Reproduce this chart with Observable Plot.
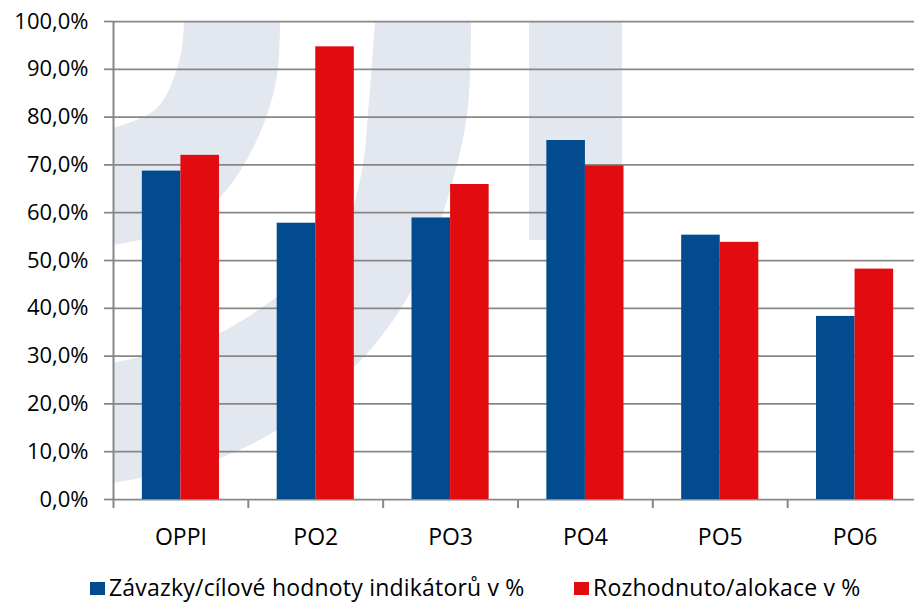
<!DOCTYPE html>
<html><head><meta charset="utf-8">
<script src="https://cdn.jsdelivr.net/npm/d3@7"></script>
<script src="https://cdn.jsdelivr.net/npm/@observablehq/plot@0.6"></script>
<style>
html,body{margin:0;padding:0;background:#fff;overflow:hidden;}
#wrap{position:relative;width:914px;height:603px;font-family:"Open Sans",sans-serif;}
.legend{position:absolute;top:573px;height:28px;line-height:28px;display:flex;align-items:center;font-size:23px;letter-spacing:0.2px;color:#000;white-space:nowrap;}
.sw{width:15px;height:13px;margin-right:4px;margin-top:3px;}
</style></head><body><div id="wrap"></div>
<script>
// ---- data ----
const categories = ["OPPI", "PO2", "PO3", "PO4", "PO5", "PO6"];
const zavazky = [68.7, 57.8, 58.9, 75.1, 55.3, 38.3];
const rozhodnuto = [72.0, 94.7, 65.9, 69.8, 53.8, 48.2];
const seriesNames = ["Závazky/cílové hodnoty indikátorů v %", "Rozhodnuto/alokace v %"];
const seriesColors = ["#014b8e", "#e20b0f"];
const yTicks = [0, 10, 20, 30, 40, 50, 60, 70, 80, 90, 100];

// ---- layout ----
const W = 914, H = 560;
const mL = 113, mR = -8, mT = 21, mB = 61;
const step = (W - mL - mR) / categories.length;
const groupPad = 0.428;              // share of each band left empty
const barW = step * (1 - groupPad) / 2;
const sideGap = step * groupPad / 2;
const gridColor = "#878787";

const rows = categories.flatMap((c, i) => [
  {cat: c, series: seriesNames[0], value: zavazky[i]},
  {cat: c, series: seriesNames[1], value: rozhodnuto[i]}
]);

const chart = Plot.plot({
  width: W, height: H,
  marginLeft: mL, marginRight: mR, marginTop: mT, marginBottom: mB,
  style: {fontFamily: "Open Sans", fontSize: "22px", color: "#000", background: "transparent", overflow: "hidden"},
  x: {domain: categories, padding: 0, round: false, label: null},
  y: {domain: [0, 100], label: null},
  color: {domain: seriesNames, range: seriesColors},
  marks: [
    Plot.gridY(yTicks, {stroke: gridColor, strokeOpacity: 1, strokeWidth: 1.75}),
    Plot.barY(rows.filter(d => d.series === seriesNames[0]), {
      x: "cat", y: "value", fill: "series",
      insetLeft: sideGap, insetRight: sideGap + barW
    }),
    Plot.barY(rows.filter(d => d.series === seriesNames[1]), {
      x: "cat", y: "value", fill: "series",
      insetLeft: sideGap + barW, insetRight: sideGap
    }),
    Plot.ruleX([categories[0]], {x: d => d, dx: -step / 2, y1: 0, y2: 100, stroke: gridColor, strokeWidth: 2}),
    Plot.axisY({ticks: yTicks, tickSize: 9, tickPadding: 16, stroke: gridColor, strokeWidth: 1.75, fill: "#000",
      tickFormat: d => d.toFixed(1).replace(".", ",") + "%", label: null}),
    Plot.axisX({tickSize: 9, dx: -step / 2, stroke: gridColor, strokeWidth: 2, tickFormat: () => "", label: null}),
    Plot.axisX({tickSize: 0, tickPadding: 29, fill: "#000", fontSize: 23, label: null})
  ]
});

// decorative light watermark behind the chart
const wm = d3.select(chart).insert("g", ":first-child").attr("fill", "#e2e7f0");
const line = d3.line().curve(d3.curveCatmullRom);
const band1Outer = [[280,21],[276,82],[253,148],[215,202],[157,235],[113,245]];
const band1Inner = [[113,128],[157,108],[180,58],[184,21]];
const band2Outer = [[471,21],[467,115],[443,213],[410,293],[370,350],[320,398],[277,430],[220,458],[160,474],[113,483]];
const band2Inner = [[113,363],[160,352],[220,333],[277,297],[320,265],[345,230],[362,170],[368,115],[375,21]];
wm.append("path").attr("d", line(band1Outer) + "L" + line(band1Inner).slice(1) + "Z");
wm.append("path").attr("d", line(band2Outer) + "L" + line(band2Inner).slice(1) + "Z");
wm.append("rect").attr("x", 529).attr("y", 21).attr("width", 93).attr("height", 219);

const wrap = document.getElementById("wrap");
wrap.appendChild(chart);

// legend
const legendLeft = [90, 574];
seriesNames.forEach((name, i) => {
  const item = document.createElement("div");
  item.className = "legend";
  item.style.left = legendLeft[i] + "px";
  item.innerHTML = `<span class="sw" style="background:${seriesColors[i]}"></span><span>${name}</span>`;
  wrap.appendChild(item);
});
</script></body></html>
